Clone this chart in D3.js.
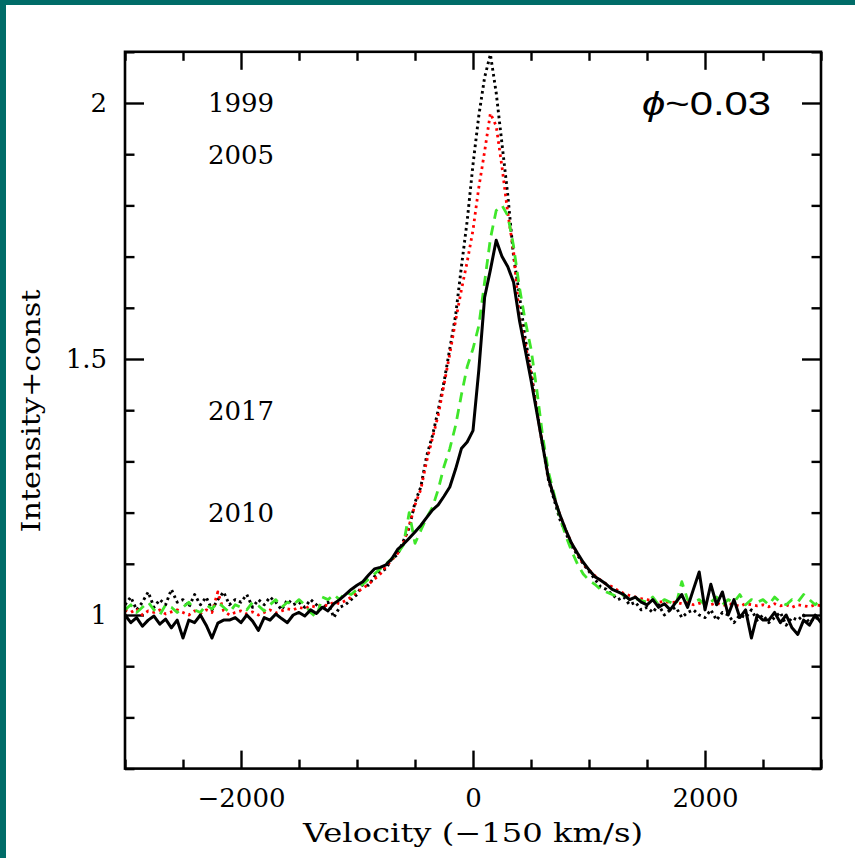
<!DOCTYPE html>
<html>
<head>
<meta charset="utf-8">
<script src="https://cdn.jsdelivr.net/npm/d3@7"></script>
<style>
  html, body { margin: 0; padding: 0; background: #fff; }
  svg { display: block; }
</style>
</head>
<body>
<svg id="chart" width="855" height="858"></svg>
<script>
// velocity grid (km/s), one sample every 50 km/s
const velocity = d3.range(-3000, 3001, 50);

// profiles, one value per velocity sample
const spec1999 = [
  1.020, 1.035, 1.010, 1.025, 1.045, 1.015, 1.030, 1.020, 1.050, 1.025,
  1.030, 1.015, 1.040, 1.020, 1.035, 1.010, 1.030, 1.045, 1.020, 1.030,
  1.025, 1.040, 1.015, 1.030, 1.020, 1.035, 1.025, 1.010, 1.030, 1.020,
  1.025, 1.015, 1.030, 1.020, 1.010, 1.025, 0.995, 1.015, 1.020, 1.030,
  1.040, 1.060, 1.058, 1.075, 1.085, 1.090, 1.110, 1.118, 1.145, 1.170,
  1.220, 1.250, 1.310, 1.350, 1.400, 1.455, 1.520, 1.585, 1.680, 1.770,
  1.880, 1.975, 2.050, 2.095, 2.020, 1.920, 1.820, 1.700, 1.625, 1.540,
  1.478, 1.400, 1.332, 1.264, 1.225, 1.186, 1.160, 1.135, 1.117, 1.100,
  1.085, 1.070, 1.055, 1.050, 1.040, 1.030, 1.035, 1.020, 1.025, 1.010,
  1.015, 1.005, 1.020, 1.000, 1.010, 1.015, 0.995, 1.005, 1.010, 1.000,
  0.995, 1.010, 0.990, 1.005, 1.000, 0.985, 1.000, 0.995, 1.010, 0.990,
  1.000, 0.985, 0.995, 1.005, 0.980, 0.995, 0.990, 1.000, 0.985, 0.995, 0.990
];
const spec2005 = [
  1.010, 1.005, 1.012, 1.000, 1.008, 1.005, 1.010, 1.002, 1.006, 1.010,
  1.005, 1.000, 1.008, 1.003, 1.010, 1.005, 1.045, 1.008, 1.000, 1.005,
  1.008, 1.002, 1.006, 1.000, 1.005, 1.010, 1.004, 1.008, 1.012, 1.010,
  1.015, 1.012, 1.018, 1.015, 1.020, 1.018, 1.025, 1.022, 1.028, 1.035,
  1.045, 1.052, 1.060, 1.070, 1.080, 1.095, 1.107, 1.120, 1.140, 1.175,
  1.215, 1.245, 1.300, 1.345, 1.390, 1.450, 1.510, 1.575, 1.635, 1.690,
  1.752, 1.835, 1.905, 1.980, 1.955, 1.875, 1.785, 1.710, 1.580, 1.530,
  1.470, 1.400, 1.332, 1.268, 1.229, 1.195, 1.166, 1.140, 1.120, 1.100,
  1.088, 1.077, 1.068, 1.060, 1.055, 1.048, 1.042, 1.038, 1.035, 1.032,
  1.030, 1.028, 1.025, 1.027, 1.024, 1.025, 1.022, 1.024, 1.020, 1.023,
  1.022, 1.020, 1.024, 1.018, 1.022, 1.020, 1.017, 1.022, 1.020, 1.018,
  1.020, 1.016, 1.022, 1.018, 1.020, 1.015, 1.020, 1.018, 1.016, 1.020, 1.018
];
const spec2017 = [
  1.010, 1.020, 1.005, 1.015, 1.025, 1.010, 1.000, 1.020, 1.015, 1.005,
  1.015, 1.025, 1.010, 1.005, 1.020, 1.012, 1.025, 1.015, 1.005, 1.020,
  1.015, 1.010, 1.025, 1.018, 1.008, 1.020, 1.030, 1.015, 1.025, 1.020,
  1.030, 1.020, 1.005, 0.995, 1.035, 1.030, 1.040, 1.030, 1.045, 1.040,
  1.050, 1.060, 1.070, 1.080, 1.090, 1.100, 1.110, 1.120, 1.137, 1.200,
  1.140, 1.165, 1.190, 1.210, 1.245, 1.290, 1.325, 1.370, 1.430, 1.485,
  1.520, 1.565, 1.650, 1.735, 1.790, 1.800, 1.780, 1.720, 1.640, 1.575,
  1.520, 1.440, 1.350, 1.280, 1.235, 1.190, 1.155, 1.125, 1.100, 1.080,
  1.068, 1.060, 1.050, 1.045, 1.040, 1.035, 1.040, 1.030, 1.032, 1.028,
  1.025, 1.035, 1.020, 1.030, 1.025, 1.020, 1.065, 1.030, 1.025, 1.030,
  1.020, 1.025, 1.035, 1.020, 1.030, 1.025, 1.040, 1.020, 1.030, 1.025,
  1.030, 1.020, 1.035, 1.025, 1.020, 1.030, 1.025, 1.040, 1.030, 1.020, 1.030
];
const spec2010 = [
  1.000, 0.985, 0.995, 0.978, 0.990, 0.998, 0.982, 0.992, 0.975, 0.990,
  0.955, 0.990, 0.985, 1.000, 0.980, 0.955, 0.984, 0.990, 0.990, 0.995,
  0.985, 1.000, 0.988, 0.970, 0.995, 0.990, 1.002, 0.993, 0.985, 1.000,
  1.005, 0.998, 1.010, 1.003, 1.015, 1.008, 1.022, 1.030, 1.040, 1.050,
  1.058, 1.065, 1.078, 1.090, 1.093, 1.098, 1.110, 1.128, 1.138, 1.150,
  1.162, 1.175, 1.190, 1.205, 1.215, 1.232, 1.250, 1.285, 1.325, 1.338,
  1.360, 1.478, 1.620, 1.674, 1.732, 1.700, 1.680, 1.650, 1.576, 1.518,
  1.459, 1.396, 1.332, 1.268, 1.229, 1.195, 1.166, 1.140, 1.121, 1.103,
  1.088, 1.075, 1.068, 1.060, 1.050, 1.045, 1.040, 1.030, 1.035, 1.025,
  1.020, 1.030, 1.015, 1.022, 1.010, 1.025, 1.040, 1.015, 1.050, 1.084,
  1.010, 1.060, 1.020, 1.045, 1.000, 1.030, 0.995, 1.010, 0.955, 1.000,
  0.990, 0.990, 1.005, 0.985, 1.000, 0.975, 0.962, 0.990, 0.980, 1.000, 0.985
];

const years = ["1999", "2005", "2017", "2010"];
const yearLevels = [2.0, 1.9, 1.4, 1.2];
const xMajorTicks = [-2000, 0, 2000];
const yMajorTicks = [1, 1.5, 2];
const phaseLabel = "0.03";

const svg = d3.select("#chart");
const W = 855, H = 858;
const serif = "'DejaVu Serif', serif";
const sans = "'Liberation Sans', Arial, sans-serif";

// teal slide frame (top + left edges)
svg.append("rect").attr("x", 0).attr("y", 0).attr("width", W).attr("height", H).attr("fill", "#fff");
svg.append("rect").attr("x", 0).attr("y", 0).attr("width", W).attr("height", 5).attr("fill", "#006c68");
svg.append("rect").attr("x", 0).attr("y", 0).attr("width", 6).attr("height", H).attr("fill", "#006c68");

const x = d3.scaleLinear().domain([-3000, 3000]).range([125, 821]);
const y = d3.scaleLinear().domain([0.7, 2.1]).range([768.6, 51.8]);

const xMinor = d3.range(-3000, 3001, 500).filter(v => !xMajorTicks.includes(v));
const yMinor = d3.range(7, 22).map(v => v / 10).filter(v => !yMajorTicks.includes(v));

svg.append("defs").append("clipPath").attr("id", "plotClip")
  .append("rect").attr("x", x.range()[0]).attr("y", y.range()[1])
  .attr("width", x.range()[1] - x.range()[0]).attr("height", y.range()[0] - y.range()[1]);

const styleAxis = function (g) {
  g.select(".domain").remove();
  g.selectAll(".tick line").attr("stroke", "#000").attr("stroke-width", 2.4);
  g.selectAll(".tick text").attr("fill", "#000").attr("font-family", serif).attr("font-size", 26);
};

// bottom axis
svg.append("g").attr("transform", `translate(0,${y.range()[0]})`)
  .call(d3.axisBottom(x).tickValues(xMajorTicks).tickSize(-18).tickPadding(20).tickFormat(d3.format("d")))
  .call(styleAxis);
svg.append("g").attr("transform", `translate(0,${y.range()[0]})`)
  .call(d3.axisBottom(x).tickValues(xMinor).tickSize(-9).tickFormat(""))
  .call(styleAxis);
// top axis
svg.append("g").attr("transform", `translate(0,${y.range()[1]})`)
  .call(d3.axisTop(x).tickValues(xMajorTicks).tickSize(-18).tickFormat(""))
  .call(styleAxis);
svg.append("g").attr("transform", `translate(0,${y.range()[1]})`)
  .call(d3.axisTop(x).tickValues(xMinor).tickSize(-9).tickFormat(""))
  .call(styleAxis);
// left axis
svg.append("g").attr("transform", `translate(${x.range()[0]},0)`)
  .call(d3.axisLeft(y).tickValues(yMajorTicks).tickSize(-19).tickPadding(18).tickFormat(d3.format("~g")))
  .call(styleAxis);
svg.append("g").attr("transform", `translate(${x.range()[0]},0)`)
  .call(d3.axisLeft(y).tickValues(yMinor).tickSize(-9.5).tickFormat(""))
  .call(styleAxis);
// right axis
svg.append("g").attr("transform", `translate(${x.range()[1]},0)`)
  .call(d3.axisRight(y).tickValues(yMajorTicks).tickSize(-19).tickFormat(""))
  .call(styleAxis);
svg.append("g").attr("transform", `translate(${x.range()[1]},0)`)
  .call(d3.axisRight(y).tickValues(yMinor).tickSize(-9.5).tickFormat(""))
  .call(styleAxis);

// spectra
const line = d3.line().x((d, i) => x(velocity[i])).y(d => y(d));
const series = [
  {data: spec1999, color: "#000", dash: "2.6,3.4", width: 2.9},
  {data: spec2005, color: "#f00", dash: "2.6,4", width: 2.8},
  {data: spec2017, color: "#3fe62a", dash: "10,7", width: 2.8},
  {data: spec2010, color: "#000", dash: null, width: 3}
];
const plot = svg.append("g").attr("clip-path", "url(#plotClip)");
series.forEach(s => {
  plot.append("path").datum(s.data)
    .attr("d", line)
    .attr("fill", "none")
    .attr("stroke", s.color)
    .attr("stroke-width", s.width)
    .attr("stroke-linejoin", "round")
    .attr("stroke-dasharray", s.dash);
});

// frame
svg.append("rect")
  .attr("x", x.range()[0]).attr("y", y.range()[1])
  .attr("width", x.range()[1] - x.range()[0]).attr("height", y.range()[0] - y.range()[1])
  .attr("fill", "none").attr("stroke", "#000").attr("stroke-width", 2.6);

// year labels
svg.append("g").selectAll("text").data(years).join("text")
  .attr("x", x(-2000))
  .attr("y", (d, i) => y(yearLevels[i]))
  .attr("dy", "0.36em")
  .attr("text-anchor", "middle")
  .attr("font-family", serif).attr("font-size", 26)
  .text(d => d);

// phase label
const phase = svg.append("text")
  .attr("x", 771).attr("y", y(2))
  .attr("dy", "0.36em")
  .attr("text-anchor", "end")
  .attr("font-family", sans).attr("font-size", 34)
  .attr("textLength", 129).attr("lengthAdjust", "spacingAndGlyphs");
phase.append("tspan").attr("font-style", "italic").text("\u03d5");
phase.append("tspan").text("~" + phaseLabel);

// axis titles
svg.append("text")
  .attr("x", x(0)).attr("y", 842)
  .attr("text-anchor", "middle")
  .attr("font-family", serif).attr("font-size", 26)
  .attr("textLength", 340).attr("lengthAdjust", "spacingAndGlyphs")
  .text("Velocity (\u2212150 km/s)");

svg.append("text")
  .attr("transform", "translate(40,411) rotate(-90)")
  .attr("text-anchor", "middle")
  .attr("font-family", serif).attr("font-size", 26)
  .attr("textLength", 243).attr("lengthAdjust", "spacingAndGlyphs")
  .text("Intensity+const");
</script>
</body>
</html>
